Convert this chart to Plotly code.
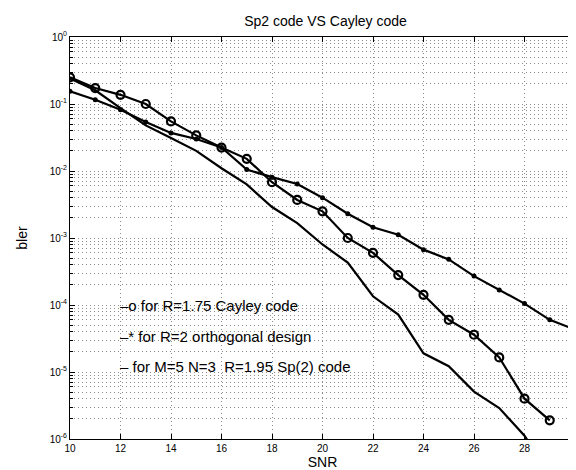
import plotly.graph_objects as go

snr_cayley = list(range(10, 30))
bler_cayley = [0.25, 0.173, 0.137, 0.10, 0.055, 0.034, 0.0224, 0.0152, 0.0068, 0.0037,
               0.0025, 0.0010, 0.0006, 0.00028, 0.000142, 0.00006, 0.000036, 0.0000165,
               0.0000040, 0.0000019]

snr_orth = list(range(10, 31))
bler_orth = [0.155, 0.116, 0.082, 0.054, 0.037, 0.030, 0.0224, 0.0105, 0.0081, 0.0064,
             0.0040, 0.0023, 0.00145, 0.00112, 0.00067, 0.00048, 0.00027, 0.000167,
             0.000105, 0.00006, 0.000043]

snr_sp2 = list(range(10, 30))
bler_sp2 = [0.24, 0.16, 0.087, 0.048, 0.031, 0.020, 0.011, 0.0063, 0.0029, 0.00167,
            0.0008, 0.00043, 0.000135, 0.000072, 0.000019, 0.0000122, 0.0000051,
            0.0000029, 0.00000112, 0.0000003]

x_ticks = list(range(10, 31, 2))
y_ticks = [1e-6, 1e-5, 1e-4, 1e-3, 1e-2, 1e-1, 1]
y_ticktext = ["10<sup>-6</sup>", "10<sup>-5</sup>", "10<sup>-4</sup>", "10<sup>-3</sup>",
              "10<sup>-2</sup>", "10<sup>-1</sup>", "10<sup>0</sup>"]
y_minor = [m * 10.0 ** k for k in range(-6, 0) for m in range(2, 10)]

legend_texts = ["\u2013o for R=1.75 Cayley code",
                "\u2013* for R=2 orthogonal design",
                "\u2013 for M=5 N=3  R=1.95 Sp(2) code"]

fig = go.Figure()
fig.add_trace(go.Scatter(x=snr_sp2, y=bler_sp2, mode="lines",
                         line=dict(color="black", width=2.2)))
fig.add_trace(go.Scatter(x=snr_orth, y=bler_orth, mode="lines+markers",
                         line=dict(color="black", width=2.2),
                         marker=dict(symbol="circle", size=5, color="black")))
fig.add_trace(go.Scatter(x=snr_cayley, y=bler_cayley, mode="lines+markers",
                         line=dict(color="black", width=2.2),
                         marker=dict(symbol="circle-open", size=8, color="black",
                                     line=dict(width=2.2, color="black"))))

L, R, T, B = 62, 3, 29, 39
W, H = 576, 470
pw, ph = W - L - R, H - T - B

def px(xp):
    return (xp - L) / pw

def py(yp):
    return (H - B - yp) / ph

text_pos = [(111, 297), (111, 328), (111, 358)]
for t, (xp, yp) in zip(legend_texts, text_pos):
    fig.add_annotation(x=px(xp), y=py(yp), xref="paper", yref="paper", text=t,
                       showarrow=False, xanchor="left", yanchor="middle",
                       font=dict(family="Liberation Sans, Arial", size=15, color="black"))

gcol = "rgba(0,0,0,0.45)"
gridstyle = dict(showgrid=True, gridcolor=gcol, gridwidth=1, griddash="1px,3px")

fig.update_layout(
    width=W, height=H,
    margin=dict(l=L, r=R, t=T, b=B),
    paper_bgcolor="white", plot_bgcolor="white",
    showlegend=False,
    title=dict(text="Sp2 code VS Cayley code", x=(L + pw / 2) / W, xanchor="center",
               y=1 - 13 / H, yanchor="middle",
               font=dict(family="Liberation Sans, Arial", size=14, color="black")),
    font=dict(family="Liberation Sans, Arial", color="black"),
)
fig.update_xaxes(range=[10, 30], tickvals=x_ticks, ticks="inside", ticklen=5,
                 tickcolor="black", showline=True, linecolor="black", linewidth=1,
                 mirror="allticks", zeroline=False, tickfont=dict(size=10),
                 ticklabeloverflow="allow",
                 title=dict(text="SNR", font=dict(size=14), standoff=4),
                 **gridstyle)
fig.update_yaxes(type="log", range=[-6, 0], tickvals=y_ticks, ticktext=y_ticktext,
                 ticks="inside", ticklen=5, tickcolor="black", showline=True,
                 linecolor="black", linewidth=1, mirror="allticks", zeroline=False,
                 tickfont=dict(size=10), ticklabeloverflow="allow",
                 title=dict(text="bler", font=dict(size=14), standoff=18),
                 minor=dict(tickmode="array", tickvals=y_minor, ticks="inside", ticklen=3,
                            tickcolor="black", showgrid=True,
                            gridcolor=gcol, gridwidth=1, griddash="1px,3px"),
                 **gridstyle)

fig.write_html("out.html")
